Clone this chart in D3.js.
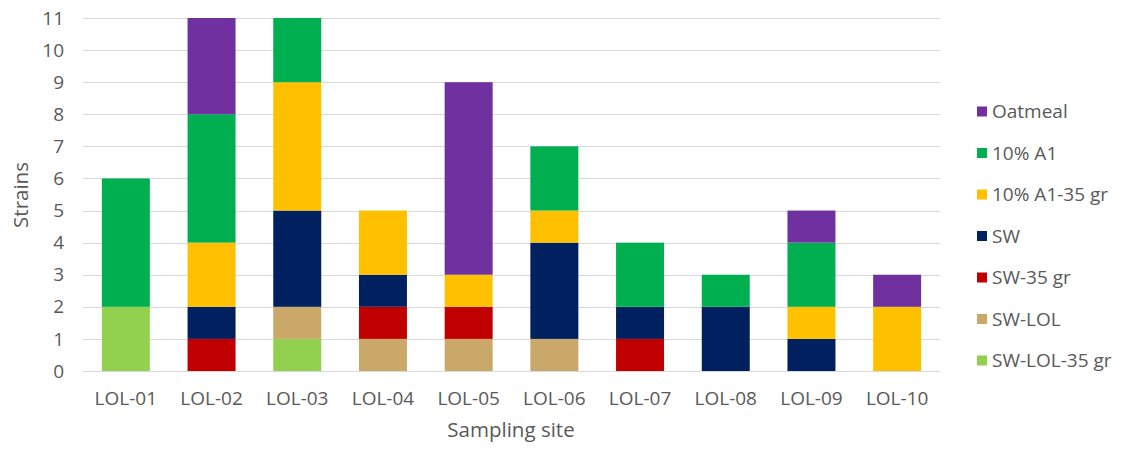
<!DOCTYPE html>
<html>
<head>
<meta charset="utf-8">
<script src="https://cdn.jsdelivr.net/npm/d3@7"></script>
<style>
  html, body { margin: 0; padding: 0; background: #fff; }
  svg text { font-family: "Open Sans", "Liberation Sans", sans-serif; fill: #595959; }
</style>
</head>
<body>
<svg id="chart" width="1124" height="450"></svg>
<script>
// Sampling sites along the x axis
const sites = ["LOL-01", "LOL-02", "LOL-03", "LOL-04", "LOL-05", "LOL-06", "LOL-07", "LOL-08", "LOL-09", "LOL-10"];

// Culture media, stacked bottom to top
const media = ["SW-LOL-35 gr", "SW-LOL", "SW-35 gr", "SW", "10% A1-35 gr", "10% A1", "Oatmeal"];

// Strain counts per medium, one value per site
const swLol35 = [2, 0, 1, 0, 0, 0, 0, 0, 0, 0];
const swLol   = [0, 0, 1, 1, 1, 1, 0, 0, 0, 0];
const sw35    = [0, 1, 0, 1, 1, 0, 1, 0, 0, 0];
const sw      = [0, 1, 3, 1, 0, 3, 1, 2, 1, 0];
const a1_35   = [0, 2, 4, 2, 1, 1, 0, 0, 1, 2];
const a1      = [4, 4, 2, 0, 0, 2, 2, 1, 2, 0];
const oatmeal = [0, 3, 0, 0, 6, 0, 0, 0, 1, 1];

const yTicks = [0, 1, 2, 3, 4, 5, 6, 7, 8, 9, 10, 11];

const colors = ["#92D050", "#C9A86A", "#C00000", "#002060", "#FFC000", "#00B050", "#7030A0"];

const seriesValues = [swLol35, swLol, sw35, sw, a1_35, a1, oatmeal];
const rows = sites.map((s, i) => {
  const r = { site: s };
  media.forEach((m, k) => { r[m] = seriesValues[k][i]; });
  return r;
});

const svg = d3.select("#chart");
const margin = { left: 83, right: 184, top: 18, bottom: 79 };
const W = 1124, H = 450;

const x = d3.scaleBand()
  .domain(sites)
  .range([margin.left, W - margin.right])
  .paddingInner(0.44)
  .paddingOuter(0.22);

const y = d3.scaleLinear()
  .domain([0, 11])
  .range([H - margin.bottom, margin.top]);

const color = d3.scaleOrdinal().domain(media).range(colors);

// Horizontal gridlines
svg.append("g")
  .selectAll("line")
  .data(yTicks)
  .join("line")
  .attr("x1", margin.left)
  .attr("x2", W - margin.right)
  .attr("y1", d => Math.round(y(d)) + 0.5)
  .attr("y2", d => Math.round(y(d)) + 0.5)
  .attr("stroke", "#D9D9D9")
  .attr("stroke-width", 1);

// Stacked bars
const stacked = d3.stack().keys(media)(rows);
svg.append("g")
  .selectAll("g")
  .data(stacked)
  .join("g")
  .attr("fill", d => color(d.key))
  .selectAll("rect")
  .data(d => d)
  .join("rect")
  .attr("x", d => x(d.data.site))
  .attr("width", x.bandwidth())
  .attr("y", d => y(d[1]))
  .attr("height", d => y(d[0]) - y(d[1]));

// Y axis labels
const yAxis = d3.axisLeft(y).tickValues(yTicks).tickSize(0).tickPadding(19);
const gy = svg.append("g")
  .attr("transform", `translate(${margin.left},0)`)
  .call(yAxis);
gy.select(".domain").remove();
gy.selectAll("text").style("font-size", "19px").style("fill", "#595959")
  .style("font-family", "'Open Sans', 'Liberation Sans', sans-serif");

// X axis labels
const xAxis = d3.axisBottom(x).tickSize(0).tickPadding(21);
const gx = svg.append("g")
  .attr("transform", `translate(0,${H - margin.bottom})`)
  .call(xAxis);
gx.select(".domain").remove();
gx.selectAll("text").style("font-size", "19px").style("fill", "#595959")
  .style("font-family", "'Open Sans', 'Liberation Sans', sans-serif");

// Axis titles
svg.append("text")
  .attr("x", 511)
  .attr("y", 437)
  .attr("text-anchor", "middle")
  .style("font-size", "20.5px")
  .text("Sampling site");

svg.append("text")
  .attr("transform", "translate(28,195) rotate(-90)")
  .attr("text-anchor", "middle")
  .style("font-size", "20.5px")
  .text("Strains");

// Legend, top entry is the top of the stack
const legendItems = media.slice().reverse();
const legend = svg.append("g")
  .selectAll("g")
  .data(legendItems)
  .join("g")
  .attr("transform", (d, i) => `translate(977,${111.5 + i * 41.5})`);

legend.append("rect")
  .attr("x", 0)
  .attr("y", -5)
  .attr("width", 10)
  .attr("height", 10)
  .attr("fill", d => color(d));

legend.append("text")
  .attr("x", 15)
  .attr("y", 0)
  .attr("dy", "0.36em")
  .style("font-size", "19px")
  .text(d => d);
</script>
</body>
</html>
